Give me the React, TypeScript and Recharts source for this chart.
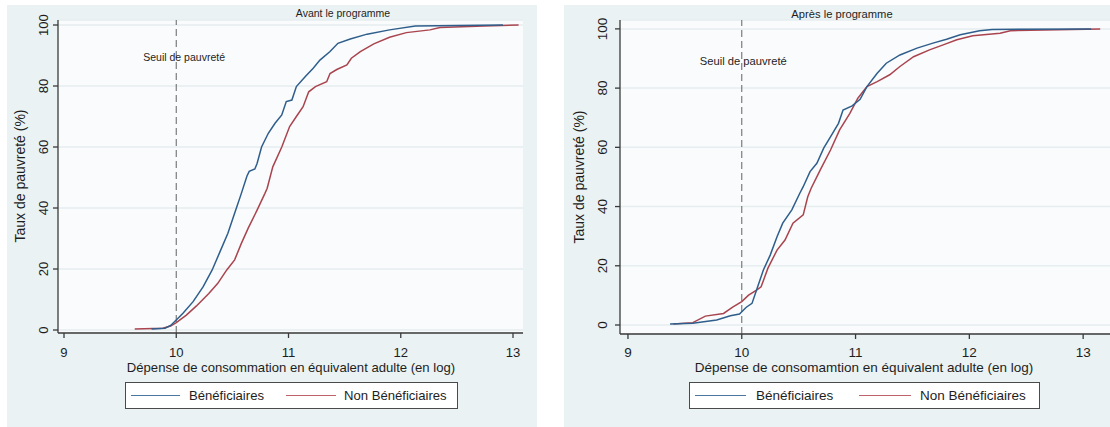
import React from 'react';
import { LineChart, Line, XAxis, YAxis, CartesianGrid, ReferenceLine } from 'recharts';

// ---------- DATA ----------
const xTicks = [9, 10, 11, 12, 13];
const yTicks = [0, 20, 40, 60, 80, 100];
const seriesNames = ['Bénéficiaires', 'Non Bénéficiaires'];
const panelTitles = ['Avant le programme', 'Après le programme'];
const xLabels = [
  'Dépense de consommation en équivalent adulte (en log)',
  'Dépense de consomamtion en équivalent adulte (en log)',
];
const yLabel = 'Taux de pauvreté (%)';
const thresholdLabel = 'Seuil de pauvreté';
const threshold = 10;

// Avant le programme - Bénéficiaires
const avantBenX = [9.78, 9.9, 9.95, 10.0, 10.06, 10.15, 10.24, 10.32, 10.39, 10.46, 10.52, 10.58, 10.63, 10.65, 10.7, 10.72, 10.76, 10.82, 10.88, 10.94, 10.98, 11.03, 11.07, 11.15, 11.22, 11.28, 11.37, 11.44, 11.55, 11.7, 11.9, 12.13, 12.91];
const avantBenY = [0.3, 0.6, 1.5, 3.3, 5.5, 9.3, 14.2, 19.7, 25.7, 31.7, 38.3, 44.8, 50.5, 52, 52.8, 54.6, 60, 64.5, 67.8, 70.5, 74.9, 75.4, 79.8, 83.1, 85.8, 88.5, 91.3, 94, 95.4, 97, 98.4, 99.7, 100];
// Avant le programme - Non Bénéficiaires
const avantNonX = [9.63, 9.88, 9.95, 10.0, 10.09, 10.18, 10.29, 10.37, 10.45, 10.52, 10.58, 10.64, 10.72, 10.79, 10.81, 10.86, 10.94, 11.01, 11.07, 11.13, 11.18, 11.24, 11.34, 11.37, 11.43, 11.52, 11.56, 11.64, 11.76, 11.9, 12.05, 12.26, 12.35, 12.74, 13.05];
const avantNonY = [0.3, 0.6, 1.3, 2.4, 4.9, 7.9, 12, 15.3, 19.7, 23, 28.4, 33.3, 39.3, 44.8, 46.5, 53.5, 60, 66.7, 70, 73.2, 78.1, 79.8, 81.4, 84.1, 85.4, 86.9, 89.1, 91.3, 93.8, 96, 97.5, 98.4, 99.2, 99.7, 100];
// Après le programme - Bénéficiaires
const apresBenX = [9.37, 9.57, 9.78, 9.9, 9.98, 10.04, 10.09, 10.13, 10.19, 10.25, 10.31, 10.36, 10.44, 10.51, 10.54, 10.6, 10.66, 10.72, 10.79, 10.85, 10.89, 10.97, 11.04, 11.1, 11.19, 11.27, 11.39, 11.54, 11.68, 11.8, 11.92, 12.09, 12.2, 13.07];
const apresBenY = [0.3, 0.6, 1.7, 3.1, 3.7, 6, 7.3, 11.8, 18.6, 23.6, 29.8, 34.4, 38.9, 44.5, 46.7, 51.8, 54.6, 59.7, 64.2, 68.1, 72.6, 74, 76.2, 80.5, 85, 88.4, 91.2, 93.5, 95.2, 96.5, 98, 99.4, 99.8, 100];
// Après le programme - Non Bénéficiaires
const apresNonX = [9.4, 9.57, 9.68, 9.84, 9.92, 10.0, 10.06, 10.13, 10.17, 10.23, 10.31, 10.38, 10.45, 10.54, 10.58, 10.61, 10.69, 10.78, 10.86, 10.95, 11.02, 11.1, 11.19, 11.3, 11.39, 11.51, 11.65, 11.77, 11.89, 12.03, 12.27, 12.36, 13.15];
const apresNonY = [0.3, 0.8, 3.0, 3.9, 6, 7.9, 10.1, 11.8, 12.9, 19.2, 25.3, 28.7, 34.4, 37.2, 43.3, 46.2, 52.4, 59.1, 65.9, 71.5, 76.6, 80.5, 82.2, 84.5, 87.3, 90.6, 92.9, 94.6, 96.3, 97.7, 98.5, 99.4, 100];

const zip = (xs: number[], ys: number[]) => xs.map((x, i) => ({ x, y: ys[i] }));

// ---------- STYLE ----------
const FONT = '"Liberation Sans", Arial, Helvetica, sans-serif';
const BLUE = '#2f5e8c';
const RED = '#a9444f';
const BLUE_LEG = '#4a77a2';
const RED_LEG = '#c0626c';
const PANEL_BG = '#eaf2f3';
const PLOT_BG = '#f9fbfc';
const GRID = '#e6eef0';
const AXIS = '#3a3a3a';
const TEXT = '#1e1e1e';

type Layout = {
  left: number; top: number; width: number; height: number;
  yAxisW: number; mRight: number; mTop: number; mBottom: number;
  xDomain: [number, number]; yDomain: [number, number];
  fs: number; smallFs: number; yTickMargin: number; xTickMargin: number;
  titleX: number; titleY: number;
  yTitleX: number; yTitleY: number; yTitleFs: number;
  xLabelX: number; xLabelY: number;
  seuilDx: number; seuilY: number;
  legend: { left: number; top: number; width: number; height: number; s1: [number, number]; t1: number; s2: [number, number]; t2: number };
};

const layouts: Layout[] = [
  {
    left: 7, top: 5, width: 530, height: 422,
    yAxisW: 51, mRight: 14, mTop: 15, mBottom: 64,
    xDomain: [8.9465, 13.089], yDomain: [-0.98, 101.64],
    fs: 13.1, smallFs: 10.5, yTickMargin: 9, xTickMargin: 14,
    titleX: 343, titleY: 13,
    yTitleX: 20, yTitleY: 176, yTitleFs: 14,
    xLabelX: 291, xLabelY: 368,
    seuilDx: -33, seuilY: 57,
    legend: { left: 125, top: 382, width: 333, height: 27, s1: [131, 180], t1: 189, s2: [286, 336], t2: 344 },
  },
  {
    left: 564, top: 5, width: 546, height: 422,
    yAxisW: 56, mRight: 0, mTop: 15, mBottom: 63,
    xDomain: [8.93, 13.236], yDomain: [-3.04, 103.0],
    fs: 13.5, smallFs: 11.2, yTickMargin: 12, xTickMargin: 13,
    titleX: 842, titleY: 14,
    yTitleX: 579, yTitleY: 177, yTitleFs: 14,
    xLabelX: 864, xLabelY: 368,
    seuilDx: -42, seuilY: 61,
    legend: { left: 689, top: 382, width: 351, height: 27, s1: [695, 746], t1: 756, s2: [859, 911], t2: 920 },
  },
];

const panelData = [
  [zip(avantBenX, avantBenY), zip(avantNonX, avantNonY)],
  [zip(apresBenX, apresBenY), zip(apresNonX, apresNonY)],
];

const YTick = (props: any) => {
  const { x, y, payload, fs } = props;
  return (
    <text
      x={x}
      y={y}
      transform={`rotate(-90 ${x} ${y})`}
      textAnchor="middle"
      dominantBaseline="central"
      fontSize={fs}
      fontFamily={FONT}
      fill={TEXT}
    >
      {payload.value}
    </text>
  );
};

const XTick = (props: any) => {
  const { x, y, payload, fs } = props;
  return (
    <text x={x} y={y} textAnchor="middle" dominantBaseline="central" fontSize={fs} fontFamily={FONT} fill={TEXT}>
      {payload.value}
    </text>
  );
};

const Panel = ({ idx }: { idx: number }) => {
  const L = layouts[idx];
  const [ben, non] = panelData[idx];
  return (
    <>
      <div
        style={{
          position: 'absolute', left: L.left, top: L.top, width: L.width, height: L.height,
          background: PANEL_BG,
        }}
      >
        <LineChart
          width={L.width}
          height={L.height}
          margin={{ top: L.mTop, right: L.mRight, bottom: L.mBottom, left: 0 }}
        >
          <CartesianGrid vertical={false} stroke={GRID} strokeWidth={1.5} fill={PLOT_BG} fillOpacity={1} />
          <XAxis
            type="number"
            dataKey="x"
            domain={L.xDomain}
            ticks={xTicks}
            interval={0}
            allowDataOverflow
            height={30}
            tickSize={5}
            tickMargin={L.xTickMargin}
            axisLine={{ stroke: AXIS, strokeWidth: 1.3 }}
            tickLine={{ stroke: AXIS, strokeWidth: 1.3 }}
            tick={<XTick fs={L.fs} />}
          />
          <YAxis
            type="number"
            dataKey="y"
            domain={L.yDomain}
            ticks={yTicks}
            interval={0}
            allowDataOverflow
            width={L.yAxisW}
            tickSize={5}
            tickMargin={L.yTickMargin}
            axisLine={{ stroke: AXIS, strokeWidth: 1.3 }}
            tickLine={{ stroke: AXIS, strokeWidth: 1.3 }}
            tick={<YTick fs={L.fs} />}
          />
          <ReferenceLine
            x={threshold}
            stroke="#707070"
            strokeWidth={1.1}
            strokeDasharray="7 4"
            label={(p: any) => {
              const vb = p.viewBox || {};
              return (
                <text
                  x={(vb.x ?? 0) + L.seuilDx}
                  y={L.seuilY - L.top}
                  dominantBaseline="central"
                  fontSize={L.smallFs}
                  fontFamily={FONT}
                  fill={TEXT}
                >
                  {thresholdLabel}
                </text>
              );
            }}
          />
          <Line
            data={non}
            dataKey="y"
            name={seriesNames[1]}
            type="linear"
            stroke={RED}
            strokeWidth={1.5}
            dot={false}
            activeDot={false}
            isAnimationActive={false}
          />
          <Line
            data={ben}
            dataKey="y"
            name={seriesNames[0]}
            type="linear"
            stroke={BLUE}
            strokeWidth={1.5}
            dot={false}
            activeDot={false}
            isAnimationActive={false}
          />
        </LineChart>
      </div>
      {/* title */}
      <div
        style={{
          position: 'absolute', left: L.titleX - 150, top: L.titleY - 8, width: 300, height: 16,
          lineHeight: '16px', textAlign: 'center', fontFamily: FONT, fontSize: L.smallFs, color: TEXT,
          whiteSpace: 'nowrap',
        }}
      >
        {panelTitles[idx]}
      </div>
      {/* y title */}
      <div
        style={{
          position: 'absolute', left: L.yTitleX - 100, top: L.yTitleY - 10, width: 200, height: 20,
          lineHeight: '20px', textAlign: 'center', fontFamily: FONT, fontSize: L.yTitleFs, color: TEXT,
          transform: 'rotate(-90deg)', whiteSpace: 'nowrap',
        }}
      >
        {yLabel}
      </div>
      {/* x title */}
      <div
        style={{
          position: 'absolute', left: L.xLabelX - 250, top: L.xLabelY - 8, width: 500, height: 16,
          lineHeight: '16px', textAlign: 'center', fontFamily: FONT, fontSize: L.fs, color: TEXT,
          whiteSpace: 'nowrap',
        }}
      >
        {xLabels[idx]}
      </div>
      {/* legend */}
      <div
        style={{
          position: 'absolute', left: L.legend.left, top: L.legend.top, width: L.legend.width,
          height: L.legend.height, boxSizing: 'border-box', border: '1px solid #4a4a4a', background: '#ffffff',
        }}
      />
      <div style={{ position: 'absolute', left: L.legend.s1[0], top: L.legend.top + 13, width: L.legend.s1[1] - L.legend.s1[0], height: 0, borderTop: `1.2px solid ${BLUE_LEG}` }} />
      <div style={{ position: 'absolute', left: L.legend.t1, top: L.legend.top + 4, height: 20, lineHeight: '20px', fontFamily: FONT, fontSize: L.fs, color: TEXT, whiteSpace: 'nowrap' }}>
        {seriesNames[0]}
      </div>
      <div style={{ position: 'absolute', left: L.legend.s2[0], top: L.legend.top + 13, width: L.legend.s2[1] - L.legend.s2[0], height: 0, borderTop: `1.2px solid ${RED_LEG}` }} />
      <div style={{ position: 'absolute', left: L.legend.t2, top: L.legend.top + 4, height: 20, lineHeight: '20px', fontFamily: FONT, fontSize: L.fs, color: TEXT, whiteSpace: 'nowrap' }}>
        {seriesNames[1]}
      </div>
    </>
  );
};

export default function App() {
  return (
    <div style={{ position: 'absolute', left: 0, top: 0, width: 1110, height: 427, background: '#ffffff', overflow: 'hidden' }}>
      <Panel idx={0} />
      <Panel idx={1} />
    </div>
  );
}
